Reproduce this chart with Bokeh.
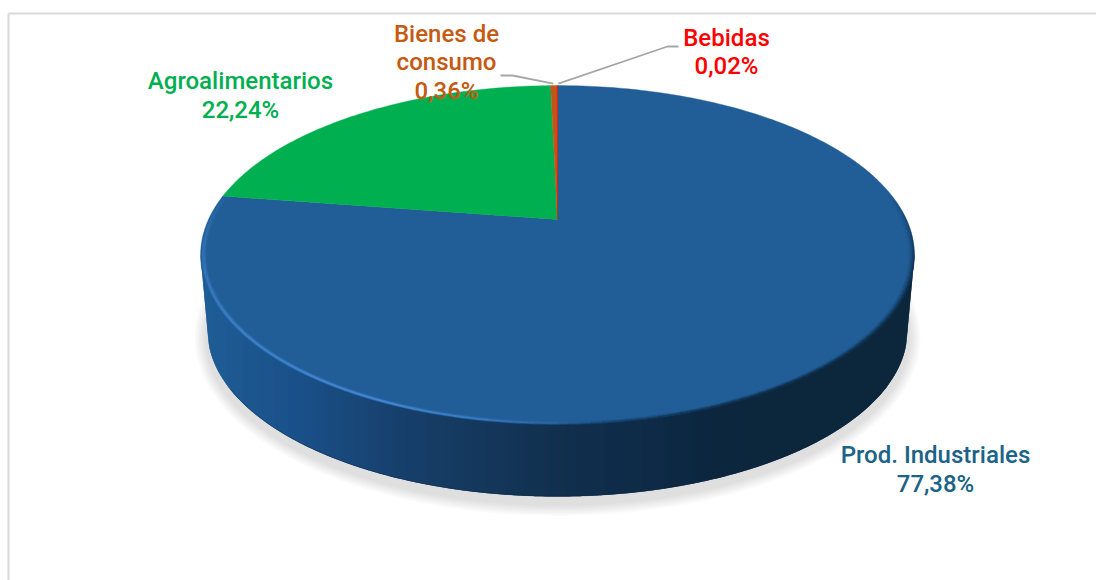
import numpy as np
from bokeh.plotting import figure
from bokeh.models import Range1d, ColumnDataSource
from bokeh.core.properties import value
from bokeh.embed import file_html
from bokeh.resources import INLINE

# ---- data ----
categories = ["Prod. Industriales", "Agroalimentarios", "Bienes de consumo", "Bebidas"]
shares = [77.38, 22.24, 0.36, 0.02]
pct_labels = ["77,38%", "22,24%", "0,36%", "0,02%"]
colors = ["#215E97", "#00B050", "#C0561A", "#FF0000"]
text_colors = ["#1B6388", "#00B050", "#C55A11", "#FF0000"]
label_lines = [["Prod. Industriales", "77,38%"], ["Agroalimentarios", "22,24%"],
               ["Bienes de", "consumo", "0,36%"], ["Bebidas", "0,02%"]]
label_cx = [935, 240, 446, 726]
label_cy = [454, 80, 33, 37]
label_step = [29, 29, 28.5, 28.5]
FONT_PX = "24px"
FONT = "'Roboto Medium', Roboto"

# ---- geometry of the perspective disc (screen pixels, y grows downward) ----
CX, CY = 557.0, 219.0          # apex of the slices
A, B, K = 349.0, 162.0, 0.2095 # homography of the unit circle
LOW_CY, LOW_RX, LOW_RY = 330.0, 350.0, 166.0  # lower rim of the drum
TOP_RX = 357.0
SIL_Y = 255.0

def disc(theta_deg, inset=0.0):
    t = np.radians(theta_deg)
    u, v = np.sin(t), -np.cos(t)
    d = 1 - K * v
    x, y = A * u / d, B * v / d
    ex, ey = 0.0, SIL_Y - CY
    s = 1 - inset / TOP_RX
    return CX + ex + (x - ex) * s, CY + ey + (y - ey) * s

p = figure(width=1096, height=580, output_backend="svg", toolbar_location=None,
           x_range=Range1d(0, 1096), y_range=Range1d(580, 0), min_border=0,
           title=None, background_fill_color="white", border_fill_color="white")
p.axis.visible = False
p.grid.visible = False
p.outline_line_color = None

# chart frame
p.line([8, 8], [580, 13], line_color="#D9D9D9", line_width=2)
p.line([8, 1096], [13, 13], line_color="#D9D9D9", line_width=2)

# soft shadow under the drum
th = np.radians(np.arange(0, 361, 2))
for grow in np.arange(12, 0, -1.5):
    p.patch(CX + (LOW_RX + 1 + grow) * np.cos(th),
            337 + (LOW_RY + 1 + grow * 0.95) * np.sin(th),
            fill_color="#808080", fill_alpha=0.03, line_color=None)

# drum side with horizontal shading
def low_edge(x):
    dx = np.abs(x - CX)
    inner = np.clip(dx / LOW_RX, 0, 1)
    y = LOW_CY + LOW_RY * np.sqrt(1 - inner ** 2)
    out = dx > LOW_RX
    y = np.where(out, LOW_CY + (SIL_Y - LOW_CY) * (dx - LOW_RX) / (TOP_RX - LOW_RX), y)
    return y

stops_x = [200, 215, 300, 400, 500, 557, 650, 700, 760, 914]
stops_c = np.array([[0x20, 0x5E, 0x98], [0x1F, 0x5B, 0x94], [0x1A, 0x50, 0x88], [0x17, 0x40, 0x6C],
                    [0x14, 0x36, 0x58], [0x11, 0x30, 0x4F], [0x0E, 0x2B, 0x47], [0x0C, 0x27, 0x40],
                    [0x0C, 0x26, 0x3C], [0x0C, 0x26, 0x3C]], dtype=float)
edges = np.arange(200.0, 915.0, 1.0)
xs_s, ys_s, cs_s = [], [], []
for x0, x1 in zip(edges[:-1], edges[1:]):
    mid = (x0 + x1) / 2
    rgb = [int(round(np.interp(mid, stops_x, stops_c[:, i]))) for i in range(3)]
    xr = min(x1 + 1.0, 914.0)
    xs_s.append([x0, xr, xr, x0])
    ys_s.append([SIL_Y, SIL_Y, float(low_edge(np.array(xr))), float(low_edge(np.array(x0)))])
    cs_s.append("#%02x%02x%02x" % tuple(rgb))
p.patches(xs_s, ys_s, fill_color=cs_s, line_color=None)

# slices on the top face
cum = np.concatenate([[0], np.cumsum(shares)])
cum = cum / cum[-1] * 360.0
for i in range(len(shares)):
    n = max(2, int(cum[i + 1] - cum[i]) + 2)
    t = np.linspace(cum[i], cum[i + 1], n)
    x, y = disc(t)
    p.patch(np.r_[CX, x], np.r_[CY, y], fill_color=colors[i], line_color=colors[i], line_width=0.4)

# bevel of the rim
def rim(color, weight_th, weight_val, insets, alphas, width):
    t = np.arange(0, 360, 1.5)
    w = np.interp(t + 0.75, weight_th, weight_val)
    for ins, al in zip(insets, alphas):
        xs, ys, aa = [], [], []
        for a, ww in zip(t, w):
            if ww <= 0:
                continue
            x, y = disc(np.array([a, a + 1.55]), ins)
            xs.append(list(x)); ys.append(list(y)); aa.append(float(ww * al))
        p.multi_line(xs, ys, line_color=color, line_alpha=aa, line_width=width)

rim("#0C263C", [80, 105, 150, 190], [0, 1, 1, 0], [0.5, 1.7, 2.9, 4.1, 5.3], [0.8, 0.55, 0.32, 0.17, 0.07], 1.3)
rim("#4A8DDC", [172, 205, 235, 262, 285], [0, 1, 0.85, 0.5, 0], [1.0, 2.2, 3.4, 4.6, 5.8], [0.2, 0.7, 0.75, 0.4, 0.15], 1.3)

# bottom contour of the drum
cx_line = np.arange(230.0, 890.0, 3.0)
p.line(cx_line, low_edge(cx_line) - 0.3, line_color="#0C2440", line_alpha=0.4, line_width=1.0)

# leader lines
x_top, y_top = disc(np.array([cum[2] + (cum[3] - cum[2]) / 2]))
x_top2, y_top2 = disc(np.array([cum[3] + (cum[4] - cum[3]) / 2]))
p.line([500, 512, float(x_top[0]) - 0.5], [75, 75, float(y_top[0]) - 2], line_color="#A6A6A6", line_width=1.8)
p.line([678, 667, float(x_top2[0]) + 1], [46, 46, float(y_top2[0]) - 2], line_color="#A6A6A6", line_width=1.8)

# labels
tx, ty, tt, tc = [], [], [], []
for lines, x, y, st, col in zip(label_lines, label_cx, label_cy, label_step, text_colors):
    for j, s in enumerate(lines):
        tx.append(x); ty.append(y + j * st); tt.append(s); tc.append(col)
src = ColumnDataSource(dict(x=tx, y=ty, t=tt, c=tc))
p.text("x", "y", text="t", source=src, text_color="c", text_align="center", text_baseline="middle",
       text_font=value(FONT), text_font_size=value(FONT_PX))

open("out.html", "w").write(file_html(p, INLINE))
